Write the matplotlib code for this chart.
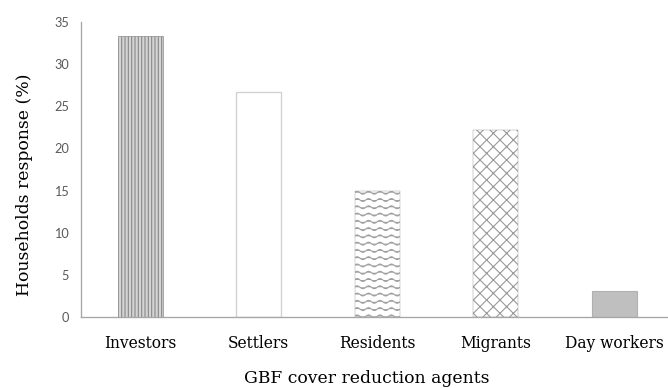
import warnings
warnings.filterwarnings("ignore")
import numpy as np
import matplotlib
matplotlib.use("Agg")
import matplotlib.pyplot as plt
import matplotlib.hatch as mhatch
from matplotlib.path import Path

categories = ["Investors", "Settlers", "Residents", "Migrants", "Day workers"]
values = [33.3, 26.7, 15.0, 22.2, 3.1]
yticks = [0, 5, 10, 15, 20, 25, 30, 35]
xlabel = "GBF cover reduction agents"
ylabel = "Households response (%)"


class WaveHatch(mhatch.HatchPatternBase):
    def __init__(self, hatch, density):
        n = hatch.count('~')
        self.rows = 11 * n
        self.periods = 7
        self.npts = self.periods * 8 + 1
        self.num_vertices = self.rows * self.npts if n else 0

    def set_vertices_and_codes(self, vertices, codes):
        t = np.linspace(0, 1, self.npts)
        amp = 0.2 / self.rows
        k = 0
        for i in range(self.rows):
            y0 = (i + 0.5) / self.rows
            vertices[k:k + self.npts, 0] = t
            vertices[k:k + self.npts, 1] = y0 + amp * np.sin(2 * np.pi * self.periods * t)
            codes[k] = Path.MOVETO
            codes[k + 1:k + self.npts] = Path.LINETO
            k += self.npts


mhatch._hatch_types.append(WaveHatch)

DPI = 80
W, H = 668, 388
plt.rcParams['hatch.linewidth'] = 1.0
fig = plt.figure(figsize=(W / DPI, H / DPI), dpi=DPI)
ax = fig.add_axes([81 / W, (H - 317) / H, (W - 81) / W, 295 / H])

x = np.arange(len(categories))
styles = [
    dict(facecolor="#d4d4d4", edgecolor="#888888", hatch="||||", linewidth=0.6),
    dict(facecolor="white", edgecolor="#d0d0d0", hatch=None, linewidth=1.2),
    dict(facecolor="white", edgecolor="#a0a0a0", hatch="~", linewidth=0.4),
    dict(facecolor="white", edgecolor="#999999", hatch="xx", linewidth=0.4),
    dict(facecolor="#bfbfbf", edgecolor="#b0b0b0", hatch=None, linewidth=1.0),
]
for xi, v, st in zip(x, values, styles):
    ax.bar(xi, v, width=0.38, **st)

serif = "DejaVu Serif"
ax.set_xlim(-0.5, -0.5 + (W - 81) / 118.5)
ax.set_ylim(0, 35)
ax.set_yticks(yticks)
ax.set_yticklabels([str(t) for t in yticks], fontfamily="Lato", fontsize=11.5, color="#595959")
ax.set_xticks(x)
ax.set_xticklabels(categories, fontfamily=serif, fontsize=14, color="black")
ax.tick_params(axis="both", length=0)
ax.tick_params(axis="y", pad=11)
ax.tick_params(axis="x", pad=16)
for s in ["top", "right"]:
    ax.spines[s].set_visible(False)
for s in ["left", "bottom"]:
    ax.spines[s].set_color("#a6a6a6")
    ax.spines[s].set_linewidth(1.2)

fig.text(367 / W, 1 - 383 / H, xlabel, ha="center", va="baseline",
         fontfamily=serif, fontsize=15.5)
fig.text(25 / W, 1 - 185 / H, ylabel, ha="center", va="center", rotation=90,
         fontfamily=serif, fontsize=15.5)

fig.savefig("out.png", dpi=DPI)
